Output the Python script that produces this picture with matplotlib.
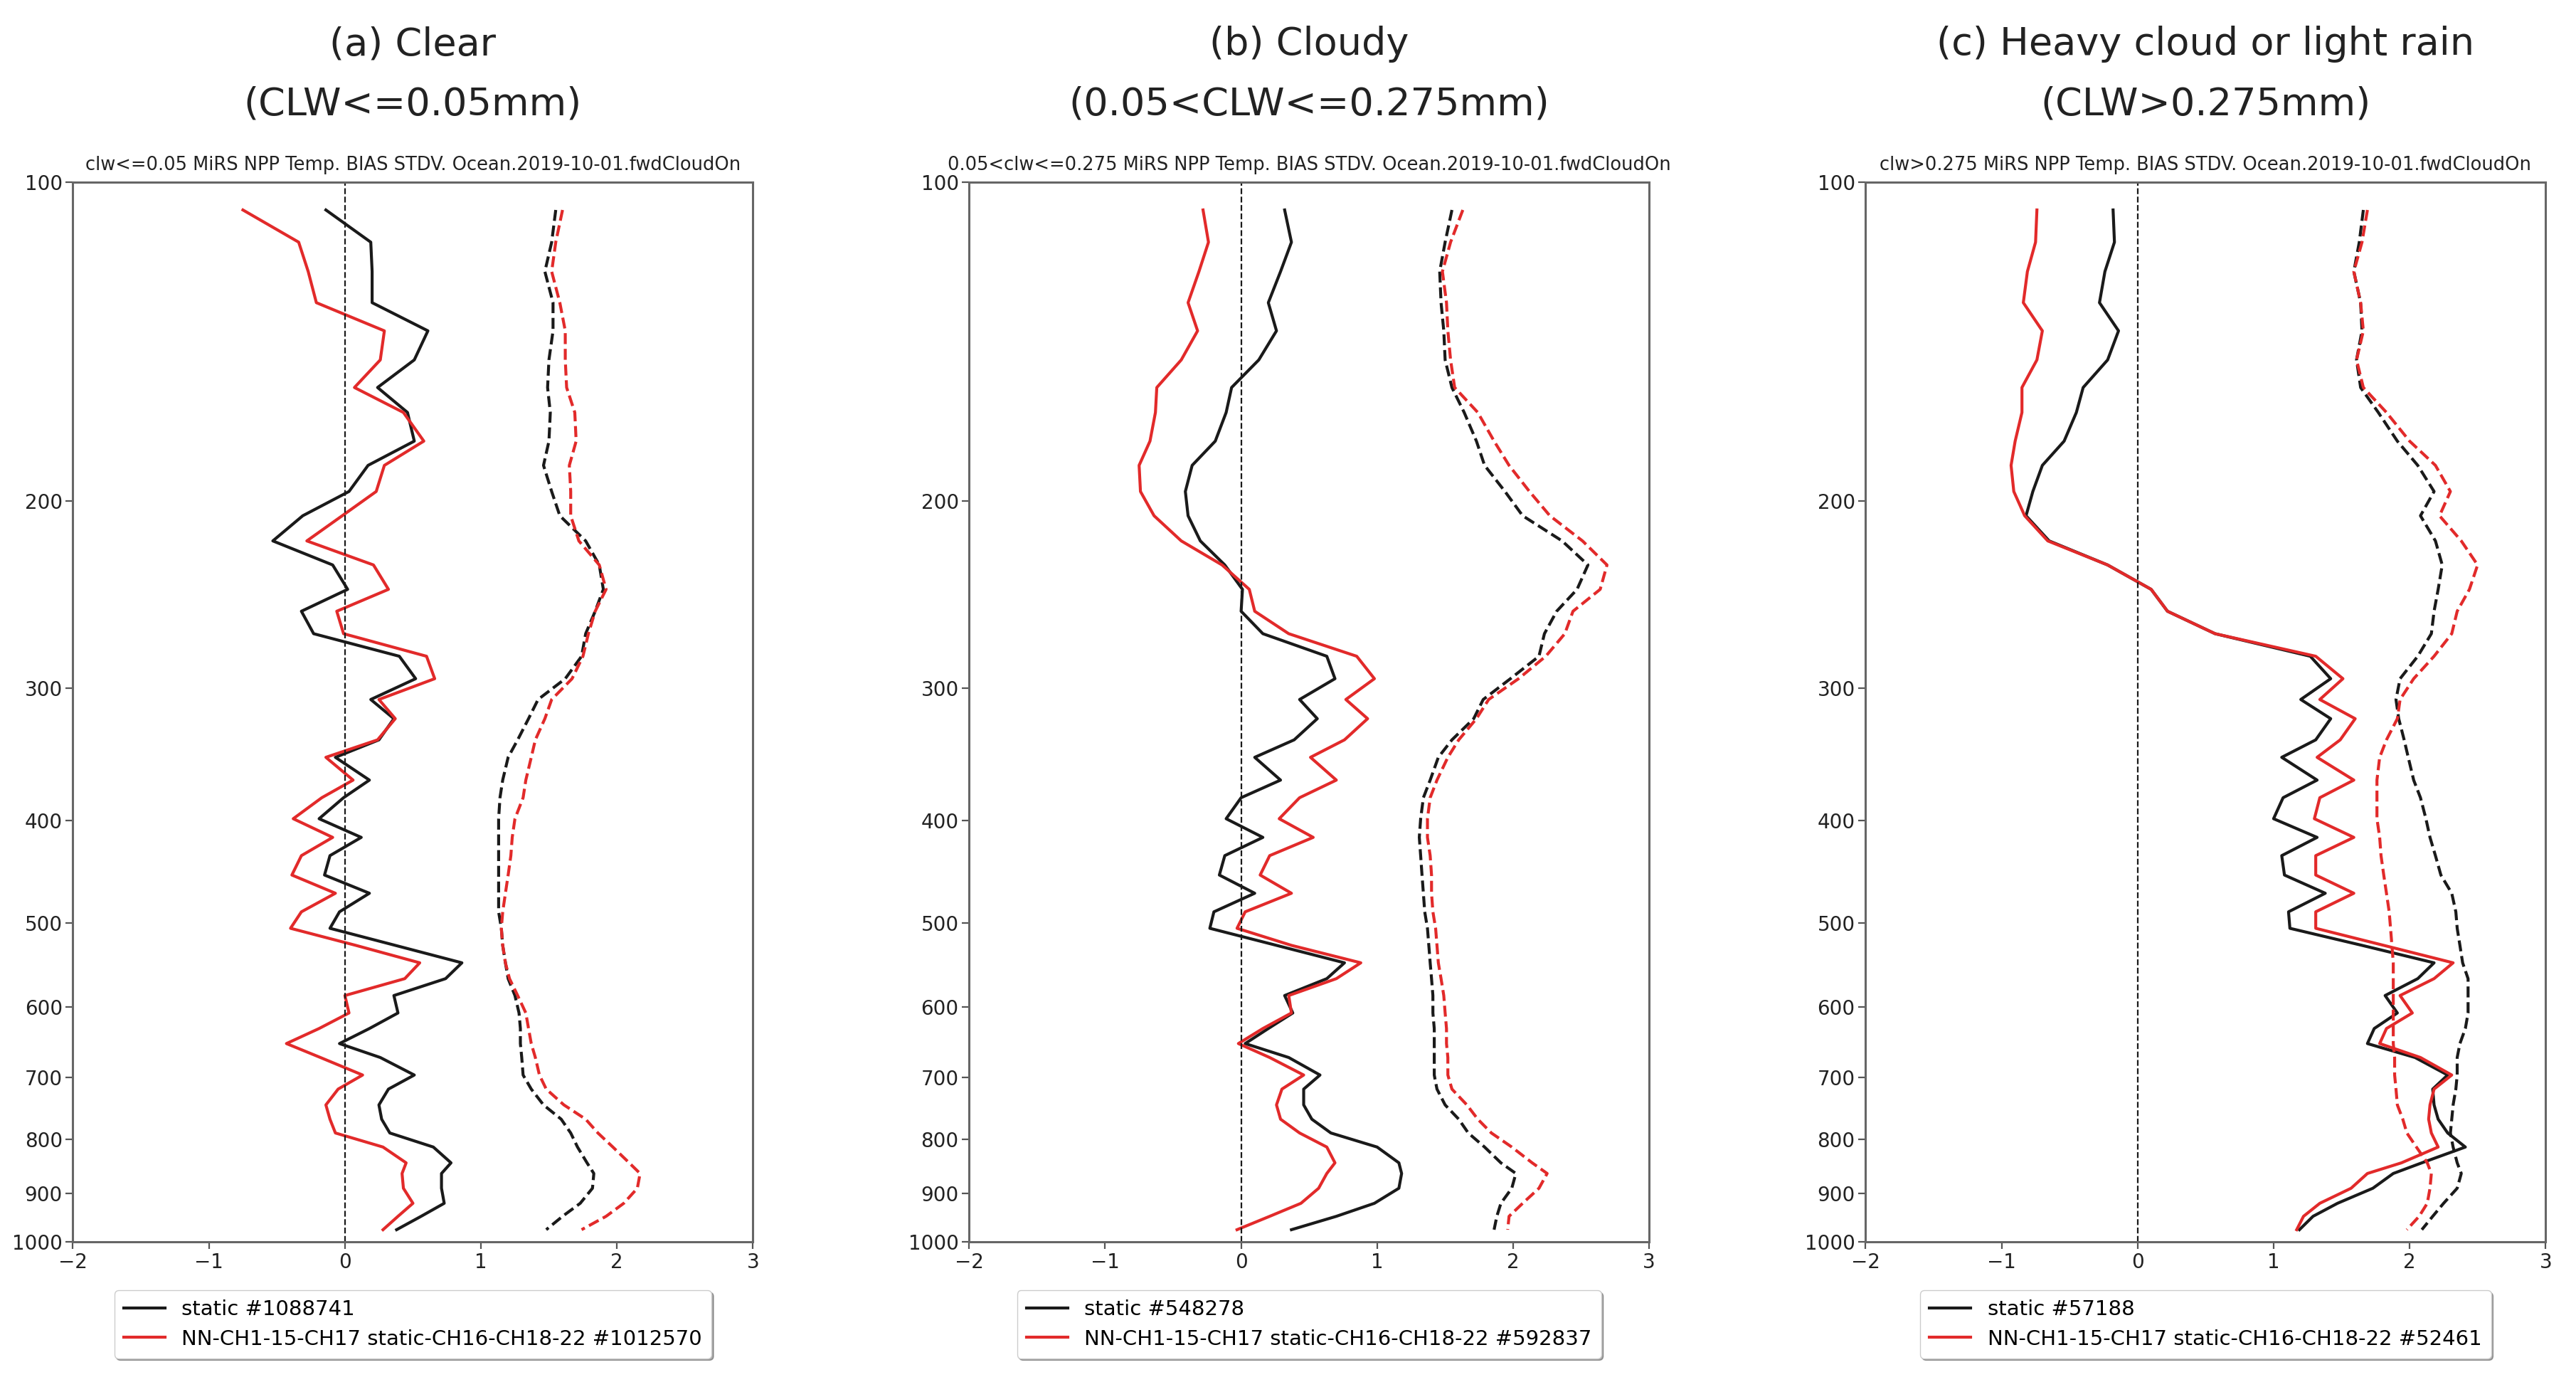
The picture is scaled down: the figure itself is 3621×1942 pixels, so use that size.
import numpy as np
import matplotlib
matplotlib.use("Agg")
import matplotlib.pyplot as plt
from matplotlib.ticker import NullLocator

plt.rcParams['font.family'] = ['DejaVu Sans']

# pressure levels (hPa)
P = [106.2, 113.9, 121.4, 129.9, 138.1, 147.1, 156.2, 164.9, 175.5, 185.0,
     195.8, 206.4, 218.0, 229.7, 242.2, 254.0, 266.7, 280.1, 294.1, 307.7,
     320.8, 335.9, 348.9, 366.6, 380.9, 398.7, 415.2, 432.0, 450.6, 468.8,
     488.1, 505.9, 525.0, 545.3, 564.4, 585.5, 608.1, 629.0, 649.9, 669.9,
     695.9, 717.5, 742.6, 766.0, 789.3, 813.8, 842.2, 861.9, 890.0, 919.6,
     946.0, 973.9]

# (a) clear
bias_static_a = [-0.14, 0.19, 0.20, 0.20, 0.61, 0.51, 0.24, 0.46, 0.51, 0.17,
                 0.03, -0.31, -0.53, -0.09, 0.02, -0.32, -0.23, 0.40, 0.52, 0.19,
                 0.36, 0.25, -0.07, 0.18, -0.01, -0.19, 0.12, -0.11, -0.15, 0.18,
                 -0.04, -0.11, 0.37, 0.86, 0.74, 0.36, 0.39, 0.18, -0.04, 0.26,
                 0.51, 0.32, 0.25, 0.27, 0.33, 0.65, 0.78, 0.71, 0.71, 0.73,
                 0.56, 0.38]
bias_nn_a = [-0.75, -0.34, -0.27, -0.21, 0.29, 0.26, 0.07, 0.43, 0.58, 0.29,
             0.23, -0.02, -0.28, 0.21, 0.32, -0.06, -0.01, 0.60, 0.66, 0.25,
             0.37, 0.24, -0.14, 0.06, -0.17, -0.38, -0.09, -0.32, -0.39, -0.07,
             -0.32, -0.40, 0.08, 0.55, 0.44, 0.00, 0.03, -0.19, -0.43, -0.18,
             0.13, -0.05, -0.14, -0.11, -0.07, 0.28, 0.45, 0.42, 0.43, 0.50,
             0.39, 0.28]
stdv_static_a = [1.55, 1.52, 1.47, 1.53, 1.53, 1.50, 1.49, 1.51, 1.50, 1.46,
                 1.52, 1.58, 1.77, 1.87, 1.90, 1.84, 1.77, 1.74, 1.62, 1.42,
                 1.35, 1.27, 1.20, 1.16, 1.14, 1.13, 1.13, 1.13, 1.13, 1.13,
                 1.13, 1.15, 1.16, 1.18, 1.20, 1.25, 1.28, 1.29, 1.29, 1.30,
                 1.31, 1.37, 1.46, 1.59, 1.66, 1.71, 1.78, 1.83, 1.82, 1.73,
                 1.60, 1.48]
stdv_nn_a = [1.60, 1.55, 1.52, 1.58, 1.62, 1.62, 1.63, 1.69, 1.70, 1.65,
             1.66, 1.66, 1.72, 1.87, 1.92, 1.84, 1.79, 1.75, 1.67, 1.52,
             1.47, 1.40, 1.37, 1.33, 1.31, 1.25, 1.23, 1.22, 1.20, 1.18,
             1.16, 1.15, 1.16, 1.18, 1.21, 1.27, 1.33, 1.35, 1.37, 1.40,
             1.43, 1.48, 1.61, 1.77, 1.86, 1.97, 2.09, 2.17, 2.15, 2.05,
             1.92, 1.74]

# (b) cloudy
bias_static_b = [0.32, 0.37, 0.29, 0.20, 0.26, 0.13, -0.07, -0.11, -0.19, -0.36,
                 -0.41, -0.39, -0.30, -0.12, 0.01, 0.00, 0.16, 0.63, 0.69, 0.43,
                 0.56, 0.39, 0.10, 0.29, 0.00, -0.11, 0.16, -0.12, -0.16, 0.10,
                 -0.20, -0.23, 0.26, 0.76, 0.63, 0.32, 0.38, 0.20, 0.03, 0.35,
                 0.58, 0.46, 0.46, 0.52, 0.66, 1.00, 1.16, 1.18, 1.16, 0.98,
                 0.70, 0.37]
bias_nn_b = [-0.28, -0.24, -0.31, -0.39, -0.32, -0.44, -0.62, -0.63, -0.67, -0.75,
             -0.74, -0.64, -0.44, -0.14, 0.06, 0.10, 0.35, 0.85, 0.98, 0.77,
             0.93, 0.76, 0.51, 0.70, 0.43, 0.28, 0.53, 0.21, 0.14, 0.37,
             0.03, -0.03, 0.37, 0.88, 0.70, 0.35, 0.37, 0.16, -0.02, 0.21,
             0.46, 0.30, 0.26, 0.29, 0.43, 0.63, 0.69, 0.63, 0.57, 0.44,
             0.21, -0.03]
stdv_static_b = [1.55, 1.50, 1.46, 1.47, 1.49, 1.50, 1.55, 1.64, 1.73, 1.79,
                 1.94, 2.07, 2.36, 2.55, 2.47, 2.32, 2.23, 2.19, 1.98, 1.78,
                 1.71, 1.55, 1.45, 1.39, 1.34, 1.32, 1.31, 1.32, 1.33, 1.34,
                 1.35, 1.37, 1.38, 1.39, 1.40, 1.41, 1.41, 1.42, 1.42, 1.42,
                 1.42, 1.44, 1.50, 1.60, 1.67, 1.79, 1.91, 2.02, 1.99, 1.91,
                 1.88, 1.86]
stdv_nn_b = [1.63, 1.54, 1.48, 1.51, 1.52, 1.54, 1.57, 1.74, 1.86, 1.97,
             2.12, 2.27, 2.51, 2.69, 2.64, 2.44, 2.38, 2.24, 2.04, 1.82,
             1.73, 1.60, 1.52, 1.44, 1.39, 1.37, 1.37, 1.39, 1.40, 1.40,
             1.41, 1.43, 1.44, 1.45, 1.47, 1.49, 1.50, 1.51, 1.51, 1.52,
             1.52, 1.55, 1.66, 1.74, 1.84, 1.99, 2.14, 2.25, 2.19, 2.07,
             1.97, 1.96]

# (c) heavy cloud or light rain
bias_static_c = [-0.18, -0.17, -0.24, -0.28, -0.14, -0.22, -0.40, -0.45, -0.54, -0.70,
                 -0.77, -0.82, -0.65, -0.22, 0.10, 0.22, 0.57, 1.27, 1.42, 1.20,
                 1.42, 1.31, 1.06, 1.32, 1.07, 1.00, 1.32, 1.06, 1.08, 1.38,
                 1.11, 1.12, 1.65, 2.18, 2.06, 1.82, 1.91, 1.74, 1.69, 2.04,
                 2.28, 2.17, 2.18, 2.21, 2.28, 2.41, 2.09, 1.88, 1.73, 1.47,
                 1.29, 1.19]
bias_nn_c = [-0.74, -0.75, -0.81, -0.84, -0.70, -0.74, -0.85, -0.85, -0.90, -0.93,
             -0.91, -0.83, -0.66, -0.22, 0.10, 0.22, 0.57, 1.31, 1.51, 1.34,
             1.60, 1.49, 1.32, 1.59, 1.34, 1.30, 1.59, 1.31, 1.31, 1.59,
             1.31, 1.31, 1.81, 2.32, 2.18, 1.93, 2.02, 1.83, 1.78, 2.08,
             2.31, 2.18, 2.15, 2.14, 2.16, 2.21, 1.94, 1.69, 1.57, 1.34,
             1.22, 1.17]
stdv_static_c = [1.66, 1.63, 1.59, 1.64, 1.65, 1.61, 1.64, 1.77, 1.91, 2.06,
                 2.18, 2.08, 2.19, 2.24, 2.21, 2.18, 2.16, 2.06, 1.93, 1.90,
                 1.92, 1.96, 1.99, 2.03, 2.08, 2.12, 2.15, 2.19, 2.23, 2.31,
                 2.34, 2.35, 2.37, 2.39, 2.43, 2.43, 2.43, 2.41, 2.37, 2.35,
                 2.35, 2.34, 2.32, 2.31, 2.30, 2.32, 2.35, 2.38, 2.35, 2.25,
                 2.17, 2.09]
stdv_nn_c = [1.69, 1.65, 1.59, 1.64, 1.66, 1.61, 1.66, 1.83, 2.00, 2.19,
             2.30, 2.22, 2.38, 2.50, 2.44, 2.35, 2.31, 2.18, 2.03, 1.93,
             1.91, 1.83, 1.78, 1.76, 1.76, 1.76, 1.78, 1.79, 1.81, 1.83,
             1.85, 1.86, 1.87, 1.88, 1.88, 1.88, 1.88, 1.88, 1.88, 1.89,
             1.89, 1.90, 1.91, 1.95, 1.98, 2.05, 2.13, 2.16, 2.15, 2.13,
             2.07, 1.98]

titles_top = ["(a) Clear", "(b) Cloudy", "(c) Heavy cloud or light rain"]
titles_bot = ["(CLW<=0.05mm)", "(0.05<CLW<=0.275mm)", "(CLW>0.275mm)"]
sub_titles = ["clw<=0.05 MiRS NPP Temp. BIAS STDV. Ocean.2019-10-01.fwdCloudOn",
              "0.05<clw<=0.275 MiRS NPP Temp. BIAS STDV. Ocean.2019-10-01.fwdCloudOn",
              "clw>0.275 MiRS NPP Temp. BIAS STDV. Ocean.2019-10-01.fwdCloudOn"]
n_static = ["1088741", "548278", "57188"]
n_nn = ["1012570", "592837", "52461"]

yticks = [100, 200, 300, 400, 500, 600, 700, 800, 900, 1000]
xticks = [-2, -1, 0, 1, 2, 3]

panels = [(bias_static_a, bias_nn_a, stdv_static_a, stdv_nn_a),
          (bias_static_b, bias_nn_b, stdv_static_b, stdv_nn_b),
          (bias_static_c, bias_nn_c, stdv_static_c, stdv_nn_c)]

BLACK = '#1a1a1a'
RED = '#e22a2a'

fig = plt.figure(figsize=(36.21, 19.42), dpi=100)
lefts = [0.0283, 0.3762, 0.7242]
for i in range(3):
    ax = fig.add_axes([lefts[i], 0.1014, 0.2640, 0.7667])
    bs, bn, ss, sn = panels[i]
    ax.plot(bs, P, color=BLACK, lw=3.0, label='static #' + n_static[i])
    ax.plot(bn, P, color=RED, lw=3.0,
            label='NN-CH1-15-CH17 static-CH16-CH18-22 #' + n_nn[i])
    ax.plot(ss, P, color=BLACK, lw=3.0, ls='--')
    ax.plot(sn, P, color=RED, lw=3.0, ls='--')
    ax.axvline(0, color=BLACK, lw=1.6, ls='--')
    ax.set_yscale('log')
    ax.set_ylim(1000, 100)
    ax.set_xlim(-2, 3)
    ax.set_yticks(yticks)
    ax.set_yticklabels([str(t) for t in yticks])
    ax.yaxis.set_minor_locator(NullLocator())
    ax.set_xticks(xticks)
    ax.set_xticklabels(['\u22122', '\u22121', '0', '1', '2', '3'])
    ax.tick_params(labelsize=20, length=7, width=1.6, color='#555555',
                   labelcolor='#222222')
    for s in ax.spines.values():
        s.set_color('#666666')
        s.set_linewidth(2.2)
    ax.set_title(sub_titles[i], fontsize=18.5, pad=12, color='#222222')
    ax.legend(loc='upper center', bbox_to_anchor=(0.5, -0.036), fontsize=21,
              shadow=True, handlelength=2.0, borderpad=0.45, labelspacing=0.45)
    cx = lefts[i] + 0.2640 / 2
    fig.text(cx, 1 - 62 / 1942, titles_top[i], ha='center', va='center',
             fontsize=39, color='#222222')
    fig.text(cx, 1 - 146 / 1942, titles_bot[i], ha='center', va='center',
             fontsize=39, color='#222222')

fig.savefig('out.png', dpi=100, facecolor='white')
